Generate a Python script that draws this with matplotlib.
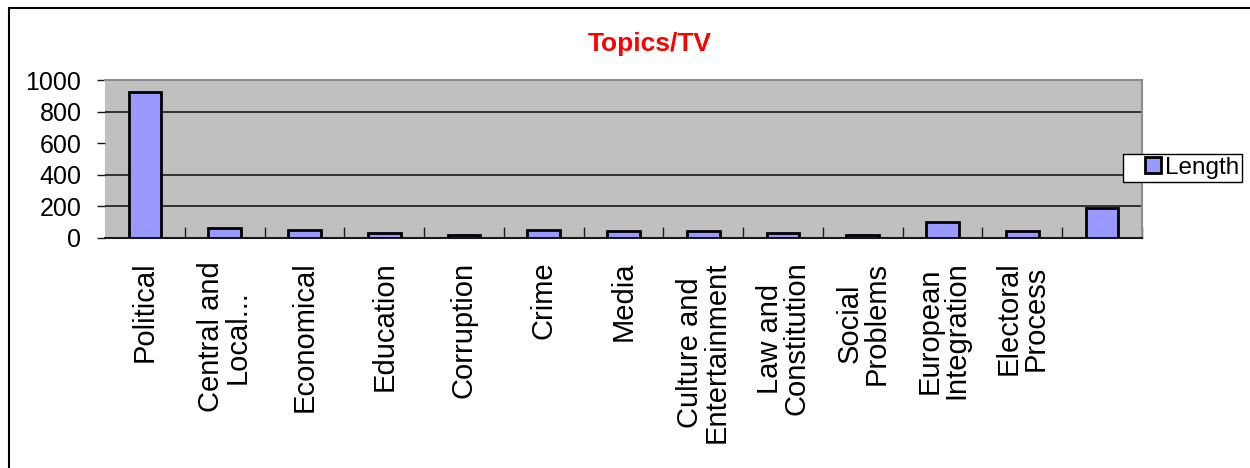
import matplotlib.pyplot as plt
import numpy as np
from matplotlib.patches import Rectangle
from matplotlib.lines import Line2D

plt.rcParams['font.family'] = ['Liberation Sans', 'DejaVu Sans']

# chart data
categories = ['Political', 'Central and\nLocal...', 'Economical', 'Education',
              'Corruption', 'Crime', 'Media', 'Culture and\nEntertainment',
              'Law and\nConstitution', 'Social\nProblems', 'European\nIntegration',
              'Electoral\nProcess', '']
lengths = [924, 62, 51, 33, 18, 51, 43, 43, 33, 18, 99, 43, 192]
y_ticks = [0, 200, 400, 600, 800, 1000]
grid_values = [200, 400, 800]

fig = plt.figure(figsize=(12.5, 4.68), dpi=100)
ax = fig.add_axes([0.084, 0.4915, 0.8296, 0.3375])
ax.set_facecolor('#C0C0C0')

x = np.arange(len(categories))
ax.bar(x, lengths, width=0.41, color='#9999FF', edgecolor='black',
       linewidth=2, zorder=3)

for g in grid_values:
    ax.axhline(g, color='#1a1a1a', linewidth=1.2, zorder=1)

ax.set_xlim(-0.5, len(categories) - 0.5)
ax.set_ylim(0, 1000)
ax.set_yticks(y_ticks)
ax.set_yticklabels([str(v) for v in y_ticks], fontsize=18)
ax.tick_params(axis='y', direction='out', length=6, width=1, color='#1a1a1a', pad=11)

# category labels at centres, boundary ticks pointing inward
ax.set_xticks(x)
ax.set_xticklabels(categories, rotation=90, fontsize=21, va='top', ha='center',
                   multialignment='center', linespacing=0.95)
ax.tick_params(axis='x', which='major', length=0, pad=17)
ax.set_xticks(np.arange(len(categories)) + 0.5, minor=True)
ax.tick_params(axis='x', which='minor', direction='in', length=8, width=1, color='#1a1a1a')

for side in ['top', 'right']:
    ax.spines[side].set_color('#8c8c8c')
    ax.spines[side].set_linewidth(1.5)
ax.spines['left'].set_visible(False)
ax.spines['bottom'].set_color('#1a1a1a')
ax.spines['bottom'].set_linewidth(1.5)

fig.text(0.52, 0.906, 'Topics/TV', color='red', fontsize=19, fontweight='bold',
         ha='center', va='center')

handle = Line2D([], [], marker='s', linestyle='none', markersize=11,
                markerfacecolor='#9999FF', markeredgecolor='black', markeredgewidth=2)
leg = ax.legend([handle], ['Length'], loc='upper left', bbox_to_anchor=(0.982, 0.532),
                borderaxespad=0, fancybox=False, edgecolor='black', framealpha=1,
                fontsize=17.5, handlelength=2.2, handletextpad=-0.6,
                borderpad=0.12, labelspacing=0)
leg.get_frame().set_linewidth(1)

# outer chart frame (right edge runs off the picture)
fig.patches.append(Rectangle((0.0068, -0.05), 1.1, 1.033, transform=fig.transFigure,
                             fill=False, edgecolor='black', linewidth=1.5))

fig.savefig('out.png', dpi=100)
